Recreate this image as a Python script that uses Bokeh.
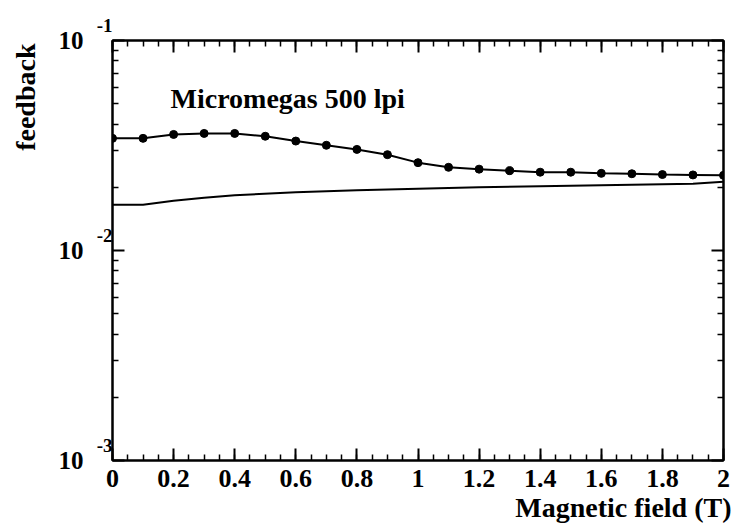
from bokeh.plotting import figure
from bokeh.models import (Range1d, FixedTicker, SingleIntervalTicker, LinearAxis, LogAxis,
                          Label, Title, CustomJSTickFormatter)
from bokeh.embed import file_html
from bokeh.resources import INLINE

# ---- data ----
field_dots = [0.0, 0.1, 0.2, 0.3, 0.4, 0.5, 0.6, 0.7, 0.8, 0.9, 1.0,
              1.1, 1.2, 1.3, 1.4, 1.5, 1.6, 1.7, 1.8, 1.9, 2.0]
feedback_dots = [0.0342, 0.0342, 0.0357, 0.0361, 0.0361, 0.0350, 0.0332, 0.0317, 0.0303, 0.0286, 0.0262,
                 0.0249, 0.0244, 0.0240, 0.0236, 0.0236, 0.0233, 0.0232, 0.0230, 0.0229, 0.0228]

field_line = [0.0, 0.1, 0.2, 0.3, 0.4, 0.6, 0.8, 1.0, 1.2, 1.4, 1.6, 1.8, 1.9, 2.0]
feedback_line = [0.01652, 0.01652, 0.01726, 0.01783, 0.01833, 0.01892, 0.01936,
                 0.01968, 0.02000, 0.02022, 0.02044, 0.02066, 0.02077, 0.02125]

y_major = [1e-1, 1e-2, 1e-3]
y_base_label = "10"
y_exponent_labels = ["-1", "-2", "-3"]
title_text = "Micromegas 500 lpi"
x_title = "Magnetic field (T)"
y_title = "feedback"

FONT = "Liberation Serif"
W, H = 734, 530
LEFT, RIGHT, TOP, BOTTOM = 112, 11, 40, 70

p = figure(width=W, height=H, x_range=Range1d(0, 2), y_range=Range1d(1e-3, 1e-1),
           y_axis_type="log", output_backend="svg", toolbar_location=None,
           min_border_left=LEFT, min_border_right=RIGHT, min_border_top=TOP, min_border_bottom=BOTTOM)
p.grid.visible = False
p.outline_line_color = "black"
p.outline_line_width = 2
p.background_fill_color = "white"
p.border_fill_color = "white"

x_ticker = SingleIntervalTicker(interval=0.2, num_minor_ticks=4)
y_minor = [m * 10.0 ** e for e in (-3, -2) for m in range(2, 10)]
y_ticker = FixedTicker(ticks=y_major, minor_ticks=y_minor)


def style_axis(ax):
    ax.axis_line_width = 2
    ax.axis_line_color = "black"
    ax.major_tick_line_width = 2
    ax.minor_tick_line_width = 1.5
    ax.major_tick_in = 12
    ax.major_tick_out = 0
    ax.minor_tick_in = 6
    ax.minor_tick_out = 0
    ax.major_label_text_font = FONT
    ax.major_label_text_font_style = "bold"
    ax.major_label_text_color = "black"


xa = p.xaxis[0]
xa.ticker = x_ticker
xa.formatter = CustomJSTickFormatter(code="return (Math.round(tick*10)/10).toString();")
style_axis(xa)
xa.major_label_text_font_size = "26px"
xa.major_label_standoff = 9

# inner left axis: ticks + raised exponents
ya = p.yaxis[0]
ya.ticker = y_ticker
ya.formatter = CustomJSTickFormatter(
    args=dict(majors=y_major, labels=y_exponent_labels),
    code="""
const i = majors.findIndex(t => Math.abs(Math.log10(t) - Math.log10(tick)) < 1e-6);
return (i >= 0 ? labels[i] : '') + '\\n\\u00a0\\n\\u00a0';
""")
style_axis(ya)
ya.major_label_text_font_size = "19px"
ya.major_label_text_line_height = 0.72
ya.major_label_standoff = 0

# outer left axis: mantissa "10"
ya10 = LogAxis(ticker=y_ticker,
               formatter=CustomJSTickFormatter(args=dict(base=y_base_label), code="return base;"))
style_axis(ya10)
ya10.axis_line_color = None
ya10.major_tick_line_color = None
ya10.minor_tick_line_color = None
ya10.major_label_text_font_size = "25px"
ya10.major_label_standoff = 10
ya10.axis_label = "\u00a0"
ya10.axis_label_text_font_size = "1px"
ya10.axis_label_standoff = 10
p.add_layout(ya10, "left")

blank = "return '';"
top = LinearAxis(ticker=x_ticker, formatter=CustomJSTickFormatter(code=blank), major_label_standoff=0)
style_axis(top)
p.add_layout(top, "above")
right = LogAxis(ticker=y_ticker, formatter=CustomJSTickFormatter(code=blank), major_label_standoff=0)
style_axis(right)
p.add_layout(right, "right")

# data
p.line(field_line, feedback_line, line_color="black", line_width=2)
p.line(field_dots, feedback_dots, line_color="black", line_width=2)
p.scatter(field_dots, feedback_dots, size=8, fill_color="black", line_color="black")

p.add_layout(Label(x=0, y=1e-1, x_offset=58, y_offset=-58, text=title_text, text_align="left",
                   text_baseline="alphabetic", text_font=FONT, text_font_style="bold",
                   text_font_size="28px", text_color="black"))

p.add_layout(Title(text=x_title, align="right", offset=-8, standoff=0, text_font=FONT,
                   text_font_style="bold", text_font_size="28px", text_color="black"), "below")

p.add_layout(Title(text=y_title, align="right", offset=3, standoff=1, text_font=FONT,
                   text_font_style="bold", text_font_size="28px", text_color="black"), "left")

open("out.html", "w").write(file_html(p, INLINE))
